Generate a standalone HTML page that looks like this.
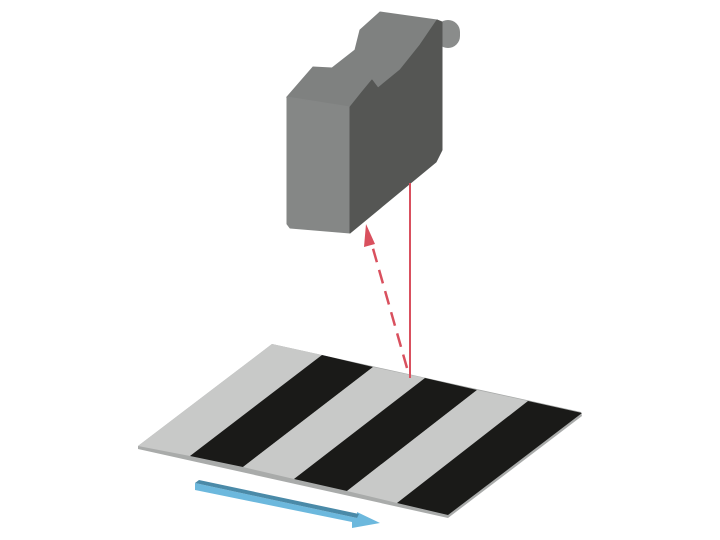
<html><body style="margin:0;background:#fff">
<svg width="720" height="540" viewBox="0 0 720 540" xmlns="http://www.w3.org/2000/svg">
<!-- plate -->
<polygon points="272,344 581,412 582,416 448,518 138,449 138,446" fill="#a9abaa"/>
<polygon points="272,344 322,355 190,456 138,446" fill="#c8c9c8"/>
<polygon points="322,355 373,367 243,467 190,456" fill="#1a1a18"/>
<polygon points="373,367 425,378 294,479 243,467" fill="#c8c9c8"/>
<polygon points="425,378 477,390 347,491 294,479" fill="#1a1a18"/>
<polygon points="477,390 528,401 397,503 347,491" fill="#c8c9c8"/>
<polygon points="528,401 582,413 448,515 397,503" fill="#1a1a18"/>
<!-- blue arrow -->
<polygon points="195,483 357,518 357,512 380,523 352,528 352,522 195,490" fill="#6cb8dd"/>
<polygon points="195,483 199,480 359,514 357,518" fill="#4a8aa8"/>
<!-- camera -->
<rect x="436" y="20" width="24" height="28" rx="12" fill="#8a8c8b"/>
<polygon points="287,97 313,67 332,68 355,50 360,30 380,12 437,20 420,45 400,70 378,88 372,80 362,92 350,107" fill="#7f8180" stroke="#7f8180" stroke-width="1"/>
<polygon points="287,97 350,107 350,233 290,228 287,224" fill="#858786" stroke="#858786" stroke-width="1" stroke-linejoin="round"/>
<polygon points="350,107 362,92 372,80 378,88 400,70 420,45 437,20 442,22 442,150 436,162 350,233" fill="#555654" stroke="#555654" stroke-width="1" stroke-linejoin="round"/>
<!-- rays -->
<line x1="410" y1="183" x2="410" y2="378" stroke="#d9505e" stroke-width="2"/>
<line x1="407" y1="368" x2="370" y2="238" stroke="#d9505e" stroke-width="2.5" stroke-dasharray="14,8"/>
<polygon points="366,224 375,244 364,247" fill="#d9505e"/>
</svg>
</body></html>
